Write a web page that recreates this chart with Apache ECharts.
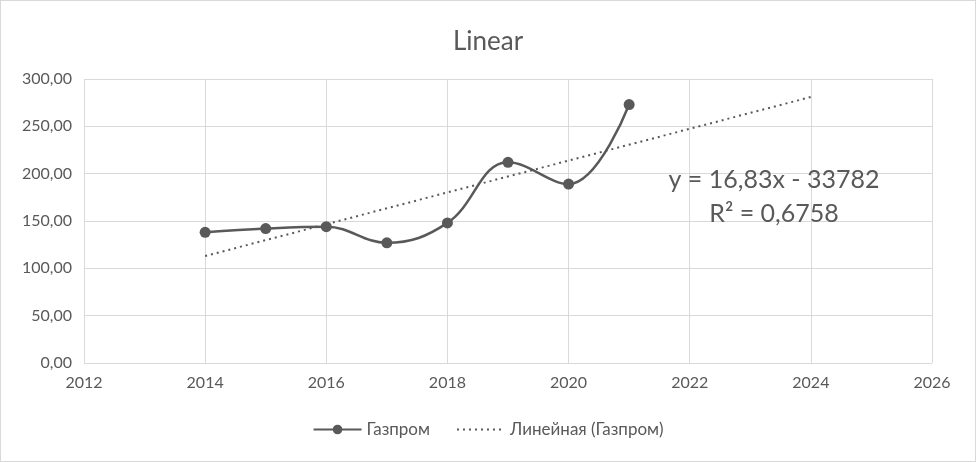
<!DOCTYPE html>
<html><head><meta charset="utf-8">
<script src="https://cdn.jsdelivr.net/npm/echarts@6/dist/echarts.min.js"></script>
<style>html,body{margin:0;padding:0;background:#fff}#c{width:976px;height:462px;box-sizing:border-box;border:1px solid #d9d9d9}</style>
</head><body><div id="c"></div>
<script>
const years = [2014, 2015, 2016, 2017, 2018, 2019, 2020, 2021];
const gazprom = [138, 142, 144, 127, 148, 212, 189, 273];
const trendYears = [2014, 2024];
const trendValues = [113, 281];
const xTicks = {min: 2012, max: 2026, interval: 2};
const yTicks = {min: 0, max: 300, interval: 50};
const equationLines = ['y = 16,83x - 33782', 'R² = 0,6758'];

const FONT = 'Lato, "Open Sans", sans-serif';
const chart = echarts.init(document.getElementById('c'), null, {renderer: 'canvas'});
chart.setOption({
  animation: false,
  title: {text: 'Linear', left: 'center', top: 23, textStyle: {fontFamily: FONT, fontSize: 26, fontWeight: 'normal', color: '#595959'}},
  grid: {left: 83, right: 43, top: 78, bottom: 98},
  legend: {
    bottom: 18, left: 'center', itemGap: 26, itemWidth: 48, itemHeight: 12,
    textStyle: {fontFamily: FONT, fontSize: 17, color: '#595959'},
    data: [{name: 'Газпром'}, {name: 'Линейная (Газпром)', itemStyle: {opacity: 0}}]
  },
  xAxis: {
    type: 'value', min: xTicks.min, max: xTicks.max, interval: xTicks.interval,
    axisLine: {show: false}, axisTick: {show: false},
    axisLabel: {fontFamily: FONT, fontSize: 16, color: '#595959', margin: 12, formatter: v => String(v)},
    splitLine: {show: true, lineStyle: {color: '#d9d9d9', width: 1}}
  },
  yAxis: {
    type: 'value', min: yTicks.min, max: yTicks.max, interval: yTicks.interval,
    axisLine: {show: false}, axisTick: {show: false},
    axisLabel: {fontFamily: FONT, fontSize: 16, color: '#595959', margin: 12,
      formatter: v => v.toFixed(2).replace('.', ',')},
    splitLine: {show: true, lineStyle: {color: '#d9d9d9', width: 1}}
  },
  series: [
    {
      name: 'Газпром', type: 'line', smooth: 0.4,
      data: years.map((y, i) => [y, gazprom[i]]),
      symbol: 'circle', symbolSize: 11,
      lineStyle: {color: '#595959', width: 2.5},
      itemStyle: {color: '#595959'}
    },
    {
      name: 'Линейная (Газпром)', type: 'line',
      data: trendYears.map((y, i) => [y, trendValues[i]]),
      symbol: 'none',
      lineStyle: {color: '#595959', width: 2, type: [2, 4]},
      itemStyle: {color: '#595959'}
    }
  ],
  graphic: [
    {type: 'text', z: 100, style: {x: 773, y: 179, text: equationLines[0], font: '25px ' + FONT, fill: '#595959', textAlign: 'center', textVerticalAlign: 'middle'}},
    {type: 'text', z: 100, style: {x: 773, y: 213, text: equationLines[1], font: '25px ' + FONT, fill: '#595959', textAlign: 'center', textVerticalAlign: 'middle'}}
  ]
});
</script></body></html>
